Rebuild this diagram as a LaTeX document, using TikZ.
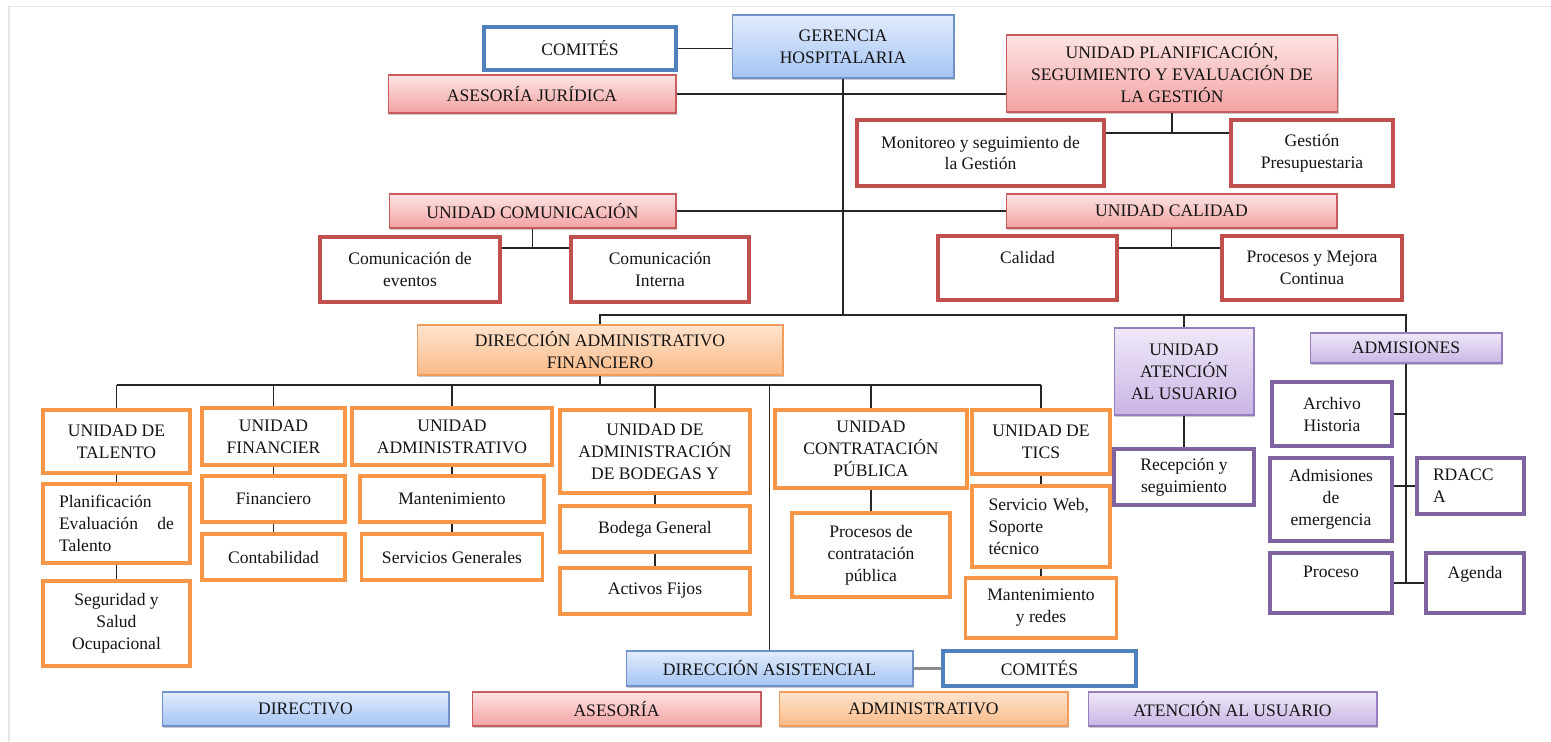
\documentclass[tikz,border=0pt]{standalone}
\usepackage{fontspec}
\setmainfont{Liberation Serif}
\usetikzlibrary{shadows}

\definecolor{bluetop}{RGB}{226,236,253}
\definecolor{bluebot}{RGB}{165,196,243}
\definecolor{blueline}{RGB}{110,145,200}
\definecolor{pinktop}{RGB}{253,228,228}
\definecolor{pinkbot}{RGB}{243,162,162}
\definecolor{pinkline}{RGB}{200,92,92}
\definecolor{orangetop}{RGB}{254,228,206}
\definecolor{orangebot}{RGB}{250,186,136}
\definecolor{orangeline}{RGB}{240,156,92}
\definecolor{purpletop}{RGB}{240,232,248}
\definecolor{purplebot}{RGB}{201,181,229}
\definecolor{purpleline}{RGB}{150,126,190}
\definecolor{redfr}{RGB}{192,80,77}
\definecolor{orangefr}{RGB}{247,150,70}
\definecolor{purplefr}{RGB}{128,100,162}
\definecolor{bluefr}{RGB}{79,129,189}

\begin{document}
\begin{tikzpicture}[x=0.02cm, y=-0.02cm,
	box/.style={rectangle, align=center, inner sep=1pt, text=black!92, font=\fontsize{10}{12.5}\selectfont},
	shade/.style={box, line width=0.6pt, drop shadow={shadow xshift=0.8pt, shadow yshift=-1pt, opacity=0.35, fill=black!60}},
	bluebox/.style={shade, draw=blueline, top color=bluetop, bottom color=bluebot},
	pinkbox/.style={shade, draw=pinkline, top color=pinktop, bottom color=pinkbot},
	orangebox/.style={shade, draw=orangeline, top color=orangetop, bottom color=orangebot},
	purplebox/.style={shade, draw=purpleline, top color=purpletop, bottom color=purplebot},
	redframe/.style={box, draw=redfr, line width=1.9pt, fill=white},
	orangeframe/.style={box, draw=orangefr, line width=1.9pt, fill=white},
	purpleframe/.style={box, draw=purplefr, line width=1.9pt, fill=white},
	blueframe/.style={box, draw=bluefr, line width=1.9pt, fill=white},
	conn/.style={line width=0.8pt, draw=black!85}]

	\useasboundingbox (0,0) rectangle (1551,741);
	\draw[black!10, line width=1pt] (9,741) -- (9,6.5) -- (1551,6.5);

	% top level
	\node[bluebox, minimum width=4.44cm, minimum height=1.26cm] (ger) at (843,46.5) {GERENCIA\\HOSPITALARIA};
	\node[blueframe, minimum width=3.84cm, minimum height=0.86cm] (comA) at (580,48.5) {COMITÉS};
	\node[pinkbox, minimum width=5.76cm, minimum height=0.76cm] (ajur) at (532,94) {ASESORÍA JURÍDICA};
	\node[pinkbox, minimum width=6.62cm, minimum height=1.54cm] (plan) at (1172,73.5) {UNIDAD PLANIFICACIÓN,\\SEGUIMIENTO Y EVALUACIÓN DE\\LA GESTIÓN};
	\node[redframe, minimum width=4.94cm, minimum height=1.32cm] (moni) at (980.5,153) {Monitoreo y seguimiento de\\la Gestión};
	\node[redframe, minimum width=3.24cm, minimum height=1.32cm] (gpre) at (1312,153) {Gestión\\Presupuestaria};

	% comunicacion y calidad
	\node[pinkbox, minimum width=5.74cm, minimum height=0.68cm] (ucom) at (532.5,211) {UNIDAD COMUNICACIÓN};
	\node[pinkbox, minimum width=6.62cm, minimum height=0.68cm] (ucal) at (1171.5,211) {UNIDAD CALIDAD};
	\node[redframe, minimum width=3.6cm, minimum height=1.3cm] (ceve) at (410,269.5) {Comunicación de\\eventos};
	\node[redframe, minimum width=3.56cm, minimum height=1.3cm] (cint) at (660,269.5) {Comunicación\\Interna};
	\node[redframe, minimum width=3.58cm, minimum height=1.28cm] (cali) at (1027.5,268) {Calidad\\\phantom{C}};
	\node[redframe, minimum width=3.6cm, minimum height=1.28cm] (pmej) at (1312,268) {Procesos y Mejora\\Continua};

	% direcciones
	\node[orangebox, minimum width=7.32cm, minimum height=1cm] (dadm) at (600,350) {DIRECCIÓN ADMINISTRATIVO\\FINANCIERO};
	\node[purplebox, minimum width=2.8cm, minimum height=1.74cm] (uaten) at (1184,371.5) {UNIDAD\\ATENCIÓN\\AL USUARIO};
	\node[purplebox, minimum width=3.84cm, minimum height=0.6cm] (admi) at (1406,348) {ADMISIONES};
	\node[purpleframe, minimum width=2.8cm, minimum height=1.12cm] (recep) at (1184,477) {Recepción y\\seguimiento};

	% admisiones
	\node[purpleframe, minimum width=2.4cm, minimum height=1.28cm] (arch) at (1332,414) {Archivo\\Historia};
	\node[purpleframe, minimum width=2.44cm, minimum height=1.66cm] (aemer) at (1331,499.5) {Admisiones\\de\\emergencia};
	\node[purpleframe, minimum width=2.14cm, minimum height=1.12cm, text width=1.5cm, align=left] (rdac) at (1470.5,486) {RDACC\\A};
	\node[purpleframe, minimum width=2.44cm, minimum height=1.2cm] (proc) at (1331,583) {Proceso\\\phantom{P}};
	\node[purpleframe, minimum width=1.96cm, minimum height=1.2cm] (agen) at (1475,583) {Agenda\\\phantom{A}};

	% unidades administrativas
	\node[orangeframe, minimum width=2.94cm, minimum height=1.26cm] (utal) at (116.5,441.5) {UNIDAD DE\\TALENTO};
	\node[orangeframe, minimum width=2.94cm, minimum height=1.58cm, text width=2.3cm, align=left] (plat) at (116.5,523.5) {Planificación\\Evaluación\hspace{\fill}de\\Talento};
	\node[orangeframe, minimum width=2.94cm, minimum height=1.7cm] (segu) at (116.5,623.5) {Seguridad y\\Salud\\Ocupacional};
	\node[orangeframe, minimum width=2.86cm, minimum height=1.14cm] (ufin) at (273.5,436.5) {UNIDAD\\FINANCIER};
	\node[orangeframe, minimum width=2.86cm, minimum height=0.92cm] (fina) at (273.5,499) {Financiero};
	\node[orangeframe, minimum width=2.86cm, minimum height=0.92cm] (cont) at (273.5,557) {Contabilidad};
	\node[orangeframe, minimum width=4cm, minimum height=1.14cm] (uadm) at (452,436.5) {UNIDAD\\ADMINISTRATIVO};
	\node[orangeframe, minimum width=3.68cm, minimum height=0.92cm] (mant) at (452,499) {Mantenimiento};
	\node[orangeframe, minimum width=3.62cm, minimum height=0.92cm] (sgen) at (452,557) {Servicios Generales};
	\node[orangeframe, minimum width=3.8cm, minimum height=1.66cm] (ubod) at (655,451.5) {UNIDAD DE\\ADMINISTRACIÓN\\DE BODEGAS Y};
	\node[orangeframe, minimum width=3.8cm, minimum height=0.92cm] (bgen) at (655,529) {Bodega General};
	\node[orangeframe, minimum width=3.8cm, minimum height=0.92cm] (afij) at (655,591) {Activos Fijos};
	\node[orangeframe, minimum width=3.84cm, minimum height=1.56cm] (ucon) at (871,449) {UNIDAD\\CONTRATACIÓN\\PÚBLICA};
	\node[orangeframe, minimum width=3.16cm, minimum height=1.68cm] (pcon) at (871,555) {Procesos de\\contratación\\pública};
	\node[orangeframe, minimum width=2.76cm, minimum height=1.28cm] (utic) at (1041,442) {UNIDAD DE\\TICS};
	\node[orangeframe, minimum width=2.76cm, minimum height=1.62cm, text width=2.1cm, align=left] (sweb) at (1041,526.5) {Servicio Web,\\Soporte\\técnico};
	\node[orangeframe, minimum width=3.02cm, minimum height=1.2cm] (mred) at (1041,608) {Mantenimiento\\y redes};

	% direccion asistencial
	\node[bluebox, minimum width=5.74cm, minimum height=0.7cm] (dasi) at (769.5,668.5) {DIRECCIÓN ASISTENCIAL};
	\node[blueframe, minimum width=3.86cm, minimum height=0.7cm] (comB) at (1039.5,668.5) {COMITÉS};

	% leyenda
	\node[bluebox, minimum width=5.74cm, minimum height=0.68cm] (legdir) at (305.5,709) {DIRECTIVO};
	\node[pinkbox, minimum width=5.78cm, minimum height=0.68cm] (legase) at (616.5,709) {ASESORÍA};
	\node[orangebox, minimum width=5.78cm, minimum height=0.68cm] (legadm) at (923.5,709) {ADMINISTRATIVO};
	\node[purplebox, minimum width=5.78cm, minimum height=0.68cm] (legate) at (1232.5,709) {ATENCIÓN AL USUARIO};

	\coordinate (jplan) at (0,133);
	\coordinate (jcom) at (0,248);
	\coordinate (bus1) at (0,315);
	\coordinate (bus2) at (0,385);

	% conectores
	\draw[conn] (comA.east) -- (comA.east -| ger.west);
	\draw[conn] (ajur.east) -- (ajur.east -| plan.west);
	\draw[conn] (ger.south) -- (ger.south |- bus1);
	\draw[conn] (plan.south) -- (plan.south |- jplan);
	\draw[conn] (moni.east |- jplan) -- (gpre.west |- jplan);
	\draw[conn] (ucom.east) -- (ucal.west);
	\draw[conn] (ucom.south) -- (ucom.south |- jcom);
	\draw[conn] (ceve.east |- jcom) -- (cint.west |- jcom);
	\draw[conn] (ucal.south) -- (ucal.south |- jcom);
	\draw[conn] (cali.east |- jcom) -- (pmej.west |- jcom);

	\draw[conn] (dadm.north) -- (dadm.north |- bus1) -- (admi.north |- bus1) -- (admi.north);
	\draw[conn] (uaten.north |- bus1) -- (uaten.north);
	\draw[conn] (dadm.south) -- (dadm.south |- bus2);
	\draw[conn] (utal.north |- bus2) -- (utic.north |- bus2);
	\foreach \n in {utal,ufin,uadm,ubod,ucon,utic}
		\draw[conn] (\n.north |- bus2) -- (\n.north);
	\draw[conn] (dasi.north |- bus2) -- (dasi.north);

	\foreach \a/\b in {utal/plat,plat/segu,ufin/fina,fina/cont,uadm/mant,mant/sgen,ubod/bgen,bgen/afij,ucon/pcon,utic/sweb,sweb/mred,uaten/recep}
		\draw[conn] (\a.south) -- (\b.north);

	\draw[conn] (admi.south) -- (admi.south |- proc.east);
	\draw[conn] (arch.east) -- (arch.east -| admi.south);
	\draw[conn] (rdac.west -| aemer.east) -- (rdac.west);
	\draw[conn] (proc.east) -- (agen.west);

	\draw[line width=1.3pt, black!45] (dasi.east) -- (comB.west);
\end{tikzpicture}
\end{document}
